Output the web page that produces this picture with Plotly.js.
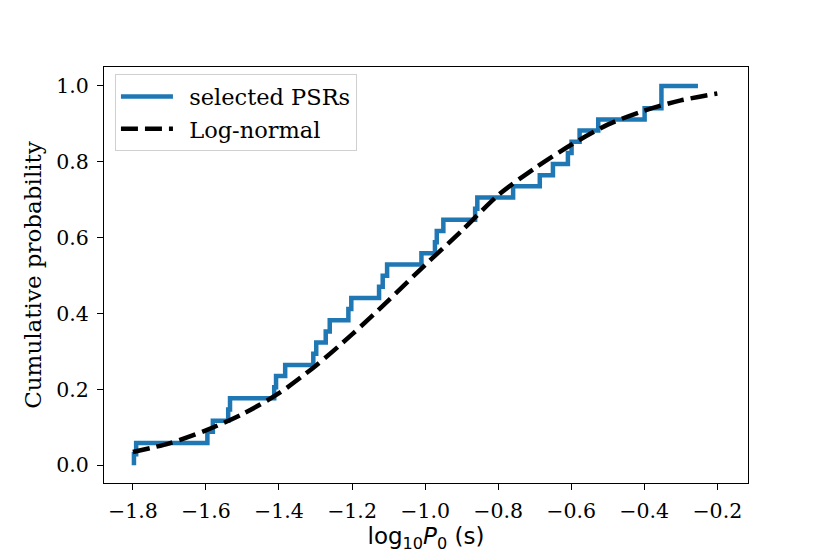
<!DOCTYPE html>
<html>
<head>
<meta charset="utf-8">
<script src="https://cdn.plot.ly/plotly-3.0.1.min.js"></script>
<style>html,body{margin:0;padding:0;background:#fff;} #chart{width:830px;height:554px;}</style>
</head>
<body>
<div id="chart"></div>
<script>
// Empirical CDF of selected PSRs (step positions in log10 P0, cumulative probability after step)
const ecdfX = [-1.797, -1.797, -1.791, -1.596, -1.581, -1.539, -1.534, -1.413, -1.408, -1.383,
               -1.306, -1.298, -1.272, -1.261, -1.210, -1.202, -1.126, -1.116, -1.104, -1.010,
               -0.973, -0.968, -0.950, -0.863, -0.857, -0.759, -0.686, -0.650, -0.609, -0.599,
               -0.577, -0.526, -0.399, -0.353, -0.253];
const ecdfY = [0, 0.0294, 0.0588, 0.0882, 0.1176, 0.1471, 0.1765, 0.2059, 0.2353, 0.2647,
               0.2941, 0.3235, 0.3529, 0.3824, 0.4118, 0.4412, 0.4706, 0.5, 0.5294, 0.5588,
               0.5882, 0.6176, 0.6471, 0.6765, 0.7059, 0.7353, 0.7647, 0.7941, 0.8235, 0.8529,
               0.8824, 0.9118, 0.9412, 1.0, 1.0];
// Log-normal model curve
const modelX = [-1.8, -1.7, -1.6, -1.5, -1.4, -1.3, -1.2, -1.1, -1.0, -0.9, -0.8, -0.7, -0.6, -0.5, -0.4, -0.3, -0.2];
const modelY = [0.035, 0.058, 0.092, 0.135, 0.19, 0.262, 0.345, 0.435, 0.528, 0.618, 0.712, 0.783, 0.845, 0.898, 0.935, 0.962, 0.98];
const xTicks = [-1.8, -1.6, -1.4, -1.2, -1.0, -0.8, -0.6, -0.4, -0.2];
const xTickText = ['\u22121.8', '\u22121.6', '\u22121.4', '\u22121.2', '\u22121.0', '\u22120.8', '\u22120.6', '\u22120.4', '\u22120.2'];
const yTicks = [0.0, 0.2, 0.4, 0.6, 0.8, 1.0];
const yTickText = ['0.0', '0.2', '0.4', '0.6', '0.8', '1.0'];
const seriesNames = ['selected PSRs', 'Log-normal'];

const serif = 'DejaVu Serif, serif';
const traces = [
  {
    x: ecdfX, y: ecdfY, mode: 'lines', name: '\u2002' + seriesNames[0],
    line: {color: '#1f77b4', width: 4.5, shape: 'hv'}
  },
  {
    x: modelX, y: modelY, mode: 'lines', name: '\u2002' + seriesNames[1],
    line: {color: '#000000', width: 4.5, dash: '17px,7px', shape: 'spline', smoothing: 0.8}
  }
];
const layout = {
  width: 830, height: 554,
  margin: {l: 104, r: 82, t: 67, b: 71},
  paper_bgcolor: '#fff', plot_bgcolor: '#fff',
  showlegend: true,
  legend: {
    x: 0.017, y: 0.982, xanchor: 'left', yanchor: 'top',
    bgcolor: 'rgba(255,255,255,0.8)', bordercolor: '#d0d0d0', borderwidth: 1,
    font: {family: serif, size: 22.5, color: '#000'},
    itemwidth: 52, tracegroupgap: 0
  },
  xaxis: {
    range: [-1.879, -0.116], tickvals: xTicks, ticktext: xTickText,
    showgrid: false, zeroline: false, showline: true, mirror: true,
    linecolor: '#000', linewidth: 1, ticks: 'outside', ticklen: 6, tickwidth: 1, tickcolor: '#000',
    tickfont: {family: serif, size: 20.5, color: '#000'}, ticklabelstandoff: 3,
    title: {text: 'log<sub>10</sub><i>P</i><sub>0</sub> (s)', font: {family: 'DejaVu Sans, sans-serif', size: 23, color: '#000'}, standoff: 6}
  },
  yaxis: {
    range: [-0.0467, 1.05], tickvals: yTicks, ticktext: yTickText,
    showgrid: false, zeroline: false, showline: true, mirror: true,
    linecolor: '#000', linewidth: 1, ticks: 'outside', ticklen: 6, tickwidth: 1, tickcolor: '#000',
    tickfont: {family: serif, size: 20.5, color: '#000'}, ticklabelstandoff: 4,
    title: {text: 'Cumulative probability', font: {family: serif, size: 23, color: '#000'}, standoff: 8}
  }
};
Plotly.newPlot('chart', traces, layout, {displayModeBar: false, staticPlot: true});
</script>
</body>
</html>
